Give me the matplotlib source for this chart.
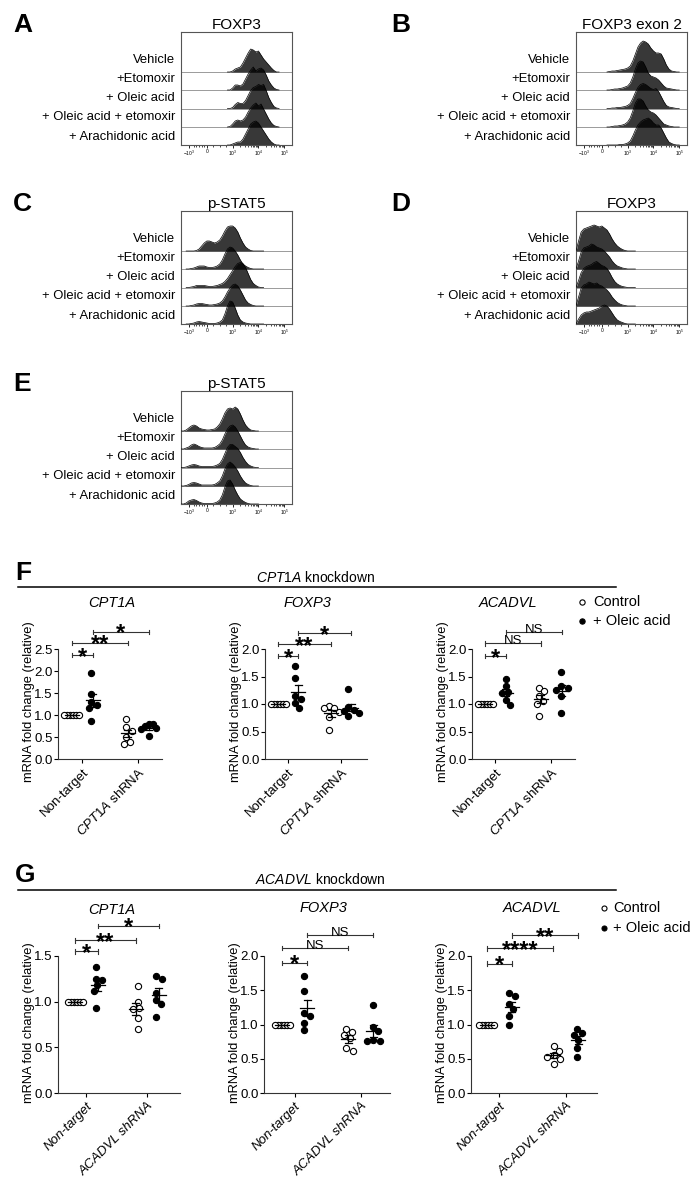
import numpy as np
import matplotlib
matplotlib.use("Agg")
import matplotlib.pyplot as plt

W, H = 698, 1193

plt.rcParams.update({
    "font.family": ["Liberation Sans", "DejaVu Sans"],
    "mathtext.fontset": "custom",
    "mathtext.rm": "Liberation Sans",
    "mathtext.it": "Liberation Sans:italic",
    "mathtext.bf": "Liberation Sans:bold",
    "mathtext.default": "regular",
    "axes.linewidth": 0.8,
})

# ---------------- flow histograms (A-E) ----------------
# heights in px above each row baseline, sampled every 0.1 on a logicle axis
ROW_LABELS = ["Vehicle", "+Etomoxir", "+ Oleic acid",
              "+ Oleic acid + etomoxir", "+ Arachidonic acid"]
HIST_TICKS = [1.3, 2.0, 3.0, 4.0, 5.0]
HIST_TICKLABELS = [r"$-10^3$", "0", r"$10^3$", r"$10^4$", r"$10^5$"]

A_START = 2.8
A_FOXP3 = [
    [0, 0, 1, 3, 4, 5, 9, 14, 19, 23, 22, 20, 21, 17, 13, 10, 7, 4, 1.5, 0, 0],
    [0, 0, 2, 5, 5, 4, 6, 11, 16, 20, 23, 19, 21, 22, 20, 15, 9, 5, 2, 0.5, 0],
    [0, 0, 1, 4, 6, 5, 5, 8, 13, 18, 21, 22, 24, 23, 24, 18, 11, 6, 2, 0.5, 0],
    [0, 0.5, 3, 6, 7, 6, 7, 10, 15, 19, 22, 24, 21, 23, 18, 13, 8, 4, 1.5, 0.5, 0],
    [0, 0, 1, 2, 3, 3, 6, 11, 16, 21, 23, 24, 22, 18, 14, 10, 6, 3, 1, 0, 0],
]

B_START = 2.2
B_FOXP3_EXON2 = [
    [0, 0.5, 1, 1, 1.5, 2, 2.5, 3, 4, 6, 11, 18, 25, 29, 31, 30, 28, 24, 21, 19,
     19, 18, 13, 7, 3, 1, 0.5, 0, 0],
    [0, 0, 0.5, 1, 1, 1.5, 2, 3, 4, 7, 13, 21, 27, 29, 28, 23, 17, 14, 13, 12,
     10, 7, 4, 2, 1.5, 1, 0.5, 0, 0],
    [0, 0, 0.5, 0.5, 1, 1, 1.5, 2, 3, 5, 10, 16, 21, 24, 25, 24, 22, 20, 19, 20,
     17, 12, 7, 3, 1.5, 1, 0.5, 0, 0],
    [0, 0, 0.5, 1, 1, 1.5, 2, 3, 5, 9, 16, 24, 28, 28, 26, 21, 17, 15, 14, 12,
     9, 6, 3, 2, 1, 0.5, 0, 0, 0],
    [0, 0, 0, 0, 0, 0.5, 0.5, 1, 2, 4, 9, 15, 20, 23, 25, 26, 27, 25, 22, 20,
     20, 17, 12, 7, 3, 1.5, 0.5, 0, 0],
]

C_START = 1.2
C_PSTAT5 = [
    [0, 0, 0, 0, 0.5, 2, 5, 8, 10, 10, 9, 8, 9, 11, 15, 20, 24, 25, 25, 23,
     19, 13, 8, 4, 2, 0.5, 0, 0, 0, 0, 0],
    [0, 0, 0.5, 1, 2, 3, 3, 3, 2, 1.5, 1.5, 2, 3, 5, 9, 15, 20, 22, 21, 18,
     14, 9, 5, 3, 1.5, 0.5, 0, 0, 0, 0, 0],
    [0, 0, 0.5, 1, 2, 2, 2, 2, 1.5, 1, 1, 1.5, 2, 3, 4, 6, 9, 13, 17, 21,
     24, 25, 24, 20, 14, 8, 4, 2, 0.5, 0, 0],
    [0, 0, 0.5, 1, 2, 2.5, 2.5, 2, 1.5, 1, 1, 1.5, 2, 3, 5, 9, 14, 18, 21, 22,
     20, 16, 11, 6, 3, 1.5, 0.5, 0, 0, 0, 0],
    [0, 0, 0.5, 1, 2, 2.5, 2, 1.5, 1, 0.5, 0.5, 0.5, 1, 2, 4, 10, 18, 23, 22, 16,
     9, 4, 2, 1, 0.5, 0, 0, 0, 0, 0, 0],
]

D_START = 1.0
D_FOXP3 = [
    [0, 10, 19, 22, 23, 24, 25, 26, 25, 24, 25, 23, 21, 17, 12, 8, 5, 3, 1.5, 0.5, 0, 0, 0, 0],
    [0, 8, 17, 21, 22, 23, 25, 24, 22, 21, 20, 18, 15, 12, 8, 5, 3, 2, 1, 0.5, 0, 0, 0, 0],
    [0, 7, 15, 19, 21, 22, 23, 25, 26, 24, 22, 21, 19, 15, 10, 6, 3.5, 2, 1, 0.5, 0, 0, 0, 0],
    [0, 9, 18, 21, 22, 24, 23, 22, 23, 21, 20, 18, 16, 13, 9, 6, 3.5, 2, 1, 0.5, 0, 0, 0, 0],
    [0, 5, 9, 11, 12, 12, 13, 14, 15, 16, 18, 19, 18, 15, 11, 7, 4, 2.5, 1.5, 0.5, 0, 0, 0, 0],
]

E_START = 1.0
E_PSTAT5 = [
    [0, 0, 1, 3, 5, 6, 5, 3, 2, 1.5, 1, 1, 1.5, 2, 4, 7, 12, 18, 22, 23,
     22, 24, 22, 17, 11, 6, 3, 1, 0.5, 0, 0],
    [0, 0, 1, 2, 4, 5, 4, 2.5, 1.5, 1, 1, 1, 1, 1.5, 3, 5, 9, 15, 20, 23,
     24, 22, 18, 13, 8, 4, 2, 1, 0.5, 0, 0],
    [0, 0, 0.5, 1.5, 2.5, 3, 2.5, 1.5, 1, 1, 1, 1, 1, 1.5, 2.5, 4, 8, 14, 20, 23,
     23, 21, 19, 15, 10, 6, 3, 1.5, 0.5, 0, 0],
    [0, 0, 0.5, 1.5, 3, 3.5, 3, 2, 1, 1, 1, 1, 1, 1.5, 3, 5, 10, 17, 22, 24,
     22, 19, 15, 10, 6, 3, 1.5, 0.5, 0, 0, 0],
    [0, 0, 1, 3, 4, 4.5, 3.5, 2, 1, 0.5, 0.5, 0.5, 0.5, 1, 2, 4, 9, 17, 23, 24,
     20, 14, 9, 5, 3, 1.5, 0.5, 0, 0, 0, 0],
]

# ---------------- qPCR dot plots (F, G) ----------------
# groups: non-target control, non-target + OA, shRNA control, shRNA + OA
OLEIC = [False, True, False, True]
F_CPT1A = [[1, 1, 1, 1, 1, 1],
           [1.95, 1.48, 1.30, 1.23, 1.16, 0.87],
           [0.90, 0.73, 0.64, 0.50, 0.38, 0.34],
           [0.80, 0.79, 0.76, 0.70, 0.68, 0.52]]
F_FOXP3 = [[1, 1, 1, 1, 1, 1],
           [1.69, 1.47, 1.14, 1.10, 1.01, 0.92],
           [0.97, 0.92, 0.92, 0.86, 0.77, 0.53],
           [1.27, 0.95, 0.90, 0.87, 0.83, 0.79]]
F_ACADVL = [[1, 1, 1, 1, 1, 1],
            [1.45, 1.32, 1.21, 1.20, 1.08, 0.99],
            [1.30, 1.23, 1.14, 1.05, 1.00, 0.79],
            [1.58, 1.32, 1.30, 1.25, 1.14, 0.84]]
G_CPT1A = [[1, 1, 1, 1, 1, 1],
           [1.38, 1.25, 1.24, 1.18, 1.12, 0.93],
           [1.17, 1.00, 0.93, 0.92, 0.82, 0.70],
           [1.28, 1.25, 1.10, 1.02, 0.97, 0.83]]
G_FOXP3 = [[1, 1, 1, 1, 1, 1],
           [1.71, 1.49, 1.17, 1.13, 1.02, 0.92],
           [0.93, 0.89, 0.84, 0.80, 0.65, 0.62],
           [1.29, 0.97, 0.90, 0.77, 0.76, 0.76]]
G_ACADVL = [[1, 1, 1, 1, 1, 1],
            [1.46, 1.41, 1.30, 1.23, 1.13, 1.00],
            [0.68, 0.62, 0.55, 0.53, 0.50, 0.42],
            [0.94, 0.88, 0.85, 0.77, 0.66, 0.53]]

# (group a, group b, bracket height, label)
F_SIG_CPT1A = [(0, 1, 2.36, "*"), (0, 2, 2.64, "**"), (1, 3, 2.89, "*")]
F_SIG_FOXP3 = [(0, 1, 1.87, "*"), (0, 2, 2.09, "**"), (1, 3, 2.29, "*")]
F_SIG_ACADVL = [(0, 1, 1.87, "*"), (0, 2, 2.10, "NS"), (1, 3, 2.31, "NS")]
G_SIG_CPT1A = [(0, 1, 1.55, "*"), (0, 2, 1.67, "**"), (1, 3, 1.83, "*")]
G_SIG_FOXP3 = [(0, 1, 1.90, "*"), (0, 2, 2.12, "NS"), (1, 3, 2.31, "NS")]
G_SIG_ACADVL = [(0, 1, 1.89, "*"), (0, 2, 2.11, "****"), (1, 3, 2.30, "**")]

XPOS = [0, 1, 2.65, 3.65]
XTICKS = [0.5, 3.15]

fig = plt.figure(figsize=(W / 100, H / 100), dpi=100)
ov = fig.add_axes([0, 0, 1, 1], zorder=10)
ov.set_xlim(0, W)
ov.set_ylim(H, 0)
ov.axis("off")


def px_axes(x0, y0, x1, y1):
    return fig.add_axes([x0 / W, 1 - y1 / H, (x1 - x0) / W, (y1 - y0) / H])


ROW_BASES = [73, 55, 36.5, 18, 0]
ROW_TEXT_Y = [28, 47, 66.3, 85.3, 104.7]
HIST_MINOR = [1.5, 1.6, 1.7, 1.8, 1.9, 2.25, 2.5, 2.75] + \
    [d + np.log10(k) for d in (3, 4) for k in range(2, 10)]


def hist_panel(letter, letter_x, title, left, top, start, curves):
    ax = px_axes(left, top, left + 111, top + 113)
    ax.set_xlim(1.0, 5.3)
    ax.set_ylim(0, 113)
    for base, h in zip(ROW_BASES, curves):
        u = start + 0.1 * np.arange(len(h))
        y = base + np.asarray(h, float)
        ax.fill_between(u, base, y, color="black", alpha=0.78, lw=0, zorder=2)
        ax.plot(u, y, color="black", lw=0.5, zorder=3)
    for base in ROW_BASES[:-1]:
        ax.axhline(base, color="#8a8a8a", lw=0.6, zorder=1)
    for s in ax.spines.values():
        s.set_color("#555555")
        s.set_linewidth(0.8)
    ax.set_yticks([])
    ax.set_xticks(HIST_TICKS)
    ax.set_xticklabels(HIST_TICKLABELS)
    ax.set_xticks(HIST_MINOR, minor=True)
    ax.tick_params(axis="x", which="major", length=2, width=0.6, labelsize=3.5, pad=1)
    ax.tick_params(axis="x", which="minor", length=1.2, width=0.5)
    for lab, ty in zip(ROW_LABELS, ROW_TEXT_Y):
        ov.text(left - 6, top + ty, lab, ha="right", va="center", fontsize=9.4)
    ov.text(left + 55.5, top - 7, title, ha="center", va="center", fontsize=11)
    ov.text(letter_x, top - 7, letter, ha="left", va="center", fontsize=19,
            fontweight="heavy")


hist_panel("A", 13, "FOXP3", 181, 32, A_START, A_FOXP3)
hist_panel("B", 391, "FOXP3 exon 2", 576, 32, B_START, B_FOXP3_EXON2)
hist_panel("C", 13, "p-STAT5", 181, 211, C_START, C_PSTAT5)
hist_panel("D", 391, "FOXP3", 576, 211, D_START, D_FOXP3)
hist_panel("E", 13, "p-STAT5", 181, 391, E_START, E_PSTAT5)


def swarm(values, ky, d=6.5, max_half=7.5):
    placed = []
    cands = [0.0] + [s * sg * 0.5 for s in range(1, 80) for sg in (1, -1)]
    for v in values:
        y = v * ky
        for c in cands:
            if all((c - px) ** 2 + (y - py) ** 2 >= d * d for px, py in placed):
                break
        placed.append((c, y))
    offs = np.array([p[0] for p in placed])
    offs -= (offs.max() + offs.min()) / 2
    half = np.abs(offs).max()
    if half > max_half:
        offs *= max_half / half
    return offs


def dot_panel(box, xlim, ytop, groups, sigs, title, title_xy, xlabels, italic_x):
    x0, y0, x1, y1 = box
    ax = px_axes(x0, y0, x1, y1)
    ax.set_xlim(*xlim)
    ax.set_ylim(0, ytop)
    kx = (x1 - x0) / (xlim[1] - xlim[0])
    ky = (y1 - y0) / ytop
    for p, vals, oa in zip(XPOS, groups, OLEIC):
        vals = np.asarray(vals, float)
        xs = p + swarm(vals, ky) / kx
        ax.scatter(xs, vals, s=20, marker="o",
                   facecolor="black" if oa else "white",
                   edgecolor="black", linewidths=0.8, zorder=3, clip_on=False)
        m = vals.mean()
        sem = vals.std(ddof=1) / np.sqrt(len(vals))
        hw, cw = 7.0 / kx, 3.5 / kx
        ax.plot([p - hw, p + hw], [m, m], color="black", lw=0.9, zorder=4)
        ax.plot([p, p], [m - sem, m + sem], color="black", lw=0.9, zorder=4)
        for yy in (m - sem, m + sem):
            ax.plot([p - cw, p + cw], [yy, yy], color="black", lw=0.9, zorder=4)
    t = 2.2 / ky
    for a, b, yb, lab in sigs:
        xa, xb = XPOS[a], XPOS[b]
        ax.plot([xa, xb], [yb, yb], color="#333333", lw=0.8, clip_on=False)
        for xx in (xa, xb):
            ax.plot([xx, xx], [yb - t, yb + t], color="#333333", lw=0.8,
                    clip_on=False)
        if lab == "NS":
            ax.text((xa + xb) / 2, yb - 0.8 / ky, lab, ha="center",
                    va="baseline", fontsize=9.5, clip_on=False)
        else:
            ax.text((xa + xb) / 2, yb - 8.5 / ky, lab, ha="center",
                    va="baseline", fontsize=17, fontweight="bold", clip_on=False)
    for side in ("top", "right"):
        ax.spines[side].set_visible(False)
    for side in ("left", "bottom"):
        ax.spines[side].set_color("#333333")
    ticks = np.arange(0, ytop + 0.01, 0.5)
    ax.set_yticks(ticks)
    ax.set_yticklabels([f"{v:.1f}" for v in ticks])
    ax.tick_params(axis="y", length=3, width=0.8, labelsize=9.5, pad=1)
    ax.set_xticks(XTICKS)
    ax.set_xticklabels(xlabels, rotation=45, ha="right", va="top",
                       rotation_mode="anchor", fontsize=9.5,
                       fontstyle="italic" if italic_x else "normal")
    ax.tick_params(axis="x", length=3, width=0.8, pad=2)
    ov.text(title_xy[0], title_xy[1], title, ha="center", va="center",
            fontsize=10.5, fontstyle="italic")
    ov.text(x0 - 29, (y0 + y1) / 2 - 2, "mRNA fold change (relative)",
            rotation=90, ha="center", va="center", fontsize=9.3)


F_LABELS = ["Non-target", r"$\mathit{CPT1A}$ shRNA"]
G_LABELS = ["Non-target", "ACADVL shRNA"]

# section F
ov.text(15, 573, "F", ha="left", va="center", fontsize=19, fontweight="heavy")
ov.plot([18, 616], [587, 587], color="black", lw=1.1)
ov.text(316, 578, r"$\mathit{CPT1A}$ knockdown", ha="center", va="center", fontsize=10)
dot_panel((58, 649, 162, 759), (-0.667, 4.29), 2.5, F_CPT1A, F_SIG_CPT1A,
          "CPT1A", (112, 603), F_LABELS, False)
dot_panel((265, 649, 367, 759), (-0.65, 4.45), 2.0, F_FOXP3, F_SIG_FOXP3,
          "FOXP3", (307, 603), F_LABELS, False)
dot_panel((472, 649, 575, 759), (-0.62, 4.29), 2.0, F_ACADVL, F_SIG_ACADVL,
          "ACADVL", (508, 603), F_LABELS, False)
ov.plot([582], [602], marker="o", ms=3.8, mfc="white", mec="black", mew=0.8)
ov.plot([582], [621], marker="o", ms=3.8, mfc="black", mec="black", mew=0.8)
ov.text(593, 602, "Control", ha="left", va="center", fontsize=10.5)
ov.text(593, 621, "+ Oleic acid", ha="left", va="center", fontsize=10.5)

# section G
ov.text(15, 875, "G", ha="left", va="center", fontsize=19, fontweight="heavy")
ov.plot([18, 616], [890, 890], color="black", lw=1.1)
ov.text(320, 880, r"$\mathit{ACADVL}$ knockdown", ha="center", va="center", fontsize=10)
dot_panel((58, 956, 180, 1093), (-0.74, 4.57), 1.5, G_CPT1A, G_SIG_CPT1A,
          "CPT1A", (112, 910), G_LABELS, True)
dot_panel((264, 956, 390, 1093), (-0.72, 4.32), 2.0, G_FOXP3, G_SIG_FOXP3,
          "FOXP3", (323, 908), G_LABELS, True)
dot_panel((471, 956, 597, 1093), (-0.63, 4.39), 2.0, G_ACADVL, G_SIG_ACADVL,
          "ACADVL", (532, 908), G_LABELS, True)
ov.plot([604], [908], marker="o", ms=3.6, mfc="white", mec="black", mew=0.8)
ov.plot([604], [928], marker="o", ms=3.6, mfc="black", mec="black", mew=0.8)
ov.text(613, 908, "Control", ha="left", va="center", fontsize=10.5)
ov.text(613, 928, "+ Oleic acid", ha="left", va="center", fontsize=10.5)

fig.savefig("out.png", dpi=100)
